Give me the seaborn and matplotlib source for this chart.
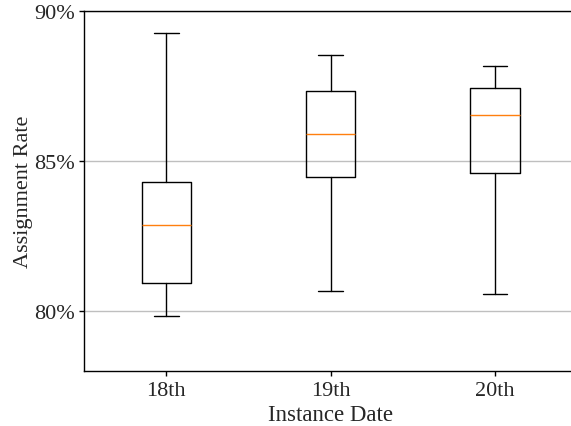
import matplotlib
matplotlib.use('Agg')
import matplotlib.pyplot as plt
import seaborn as sns

# Box summary values (percent)
dates = ['18th', '19th', '20th']
whisker_low = [79.84, 80.69, 80.58]
q1 = [80.94, 84.46, 84.59]
medians = [82.86, 85.91, 86.54]
q3 = [84.30, 87.32, 87.44]
whisker_high = [89.27, 88.53, 88.16]
ytick_values = [80, 85, 90]
ytick_labels = ['80%', '85%', '90%']

sns.set_style('white')
plt.rcParams['font.family'] = 'serif'
plt.rcParams['font.serif'] = ['Liberation Serif', 'DejaVu Serif']

stats = [
    {'label': d, 'whislo': lo, 'q1': a, 'med': m, 'q3': b, 'whishi': hi, 'fliers': []}
    for d, lo, a, m, b, hi in zip(dates, whisker_low, q1, medians, q3, whisker_high)
]

fig = plt.figure(figsize=(5.71, 4.27), dpi=100)
ax = fig.add_axes([0.1475, 0.128, 0.863, 0.8445])
ax.bxp(
    stats, widths=0.3, showfliers=False,
    boxprops=dict(color='black', linewidth=1),
    whiskerprops=dict(color='black', linewidth=1),
    capprops=dict(color='black', linewidth=1),
    medianprops=dict(color='#ff7f0e', linewidth=1),
)
ax.set_xlim(0.5, 3.5)
ax.set_ylim(78, 90)
ax.set_yticks(ytick_values)
ax.set_yticklabels(ytick_labels)
ax.yaxis.grid(True, color='0.75', linewidth=1)
ax.set_axisbelow(True)
for s in ax.spines.values():
    s.set_color('black')
    s.set_linewidth(1)
ax.tick_params(axis='both', which='both', direction='out', length=3.5, width=1,
               color='black', labelsize=16, left=True, bottom=True)
ax.set_xlabel('Instance Date', fontsize=16.5, labelpad=3)
ax.set_ylabel('Assignment Rate', fontsize=16, labelpad=0.5)

fig.savefig('out.png', dpi=100)
